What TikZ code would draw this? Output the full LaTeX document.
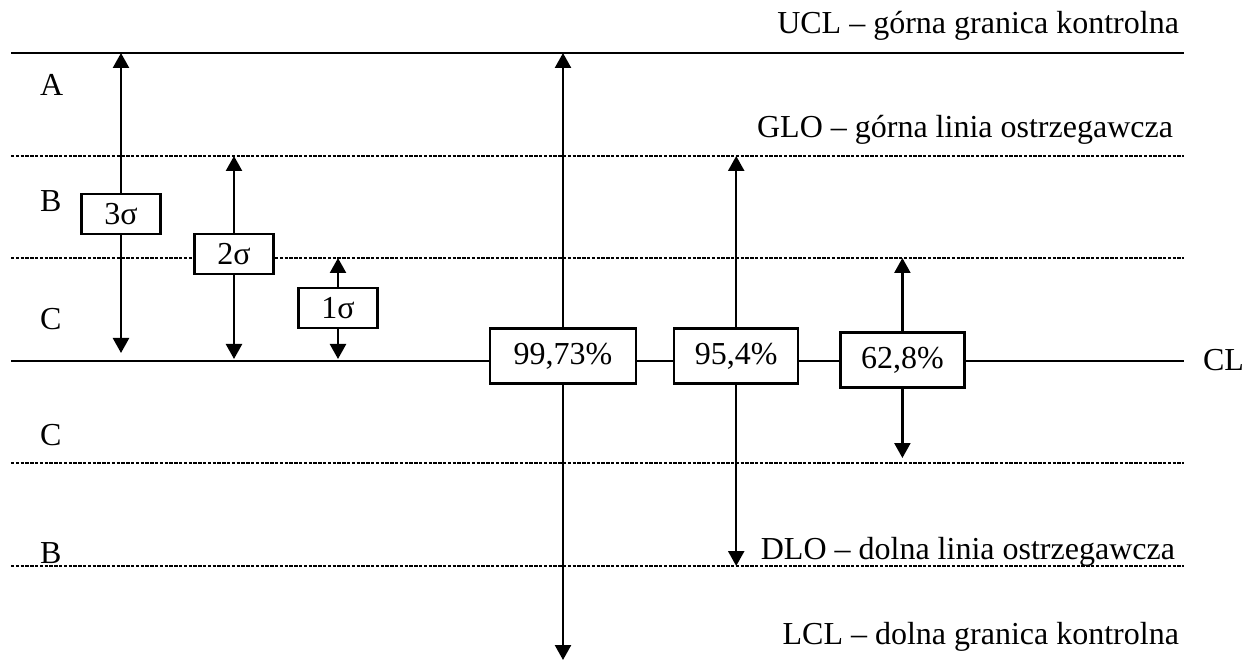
\documentclass[tikz,border=0pt]{standalone}
\usepackage{fontspec}
\setmainfont{Liberation Serif}
\usetikzlibrary{arrows.meta, positioning}

\begin{document}
\begin{tikzpicture}[
  x=0.5pt, y=-0.5pt,
  font=\fontsize{16}{19}\selectfont,
  limit/.style={line width=1.2pt},
  warn/.style={line width=1.2pt, dash pattern=on 1.7pt off 0.7pt},
  sbox/.style={rectangle, draw, line width=1.1pt, fill=white,
              minimum width=39.5pt, minimum height=20pt, inner sep=0pt},
  pbox/.style={sbox, minimum width=62pt, minimum height=27.5pt},
  tip/.style={-{Triangle[length=7.5pt, width=8pt]}, line width=1.2pt},
  zone/.style={anchor=base west},
  lname/.style={anchor=base east}
]
  \useasboundingbox (0,0) rectangle (1247,662);

  % control and warning lines
  \coordinate (ucl-l) at (11,53);  \coordinate (ucl-r) at (1184,53);
  \coordinate (glo-l) at (11,156); \coordinate (glo-r) at (1184,156);
  \coordinate (c1-l) at (11,258);  \coordinate (c1-r) at (1184,258);
  \coordinate (cl-l) at (11,361);  \coordinate (cl-r) at (1184,361);
  \coordinate (c2-l) at (11,463);  \coordinate (c2-r) at (1184,463);
  \coordinate (dlo-l) at (11,566); \coordinate (dlo-r) at (1184,566);
  \coordinate (lcl-b) at (564,660);

  \draw[limit] (ucl-l) -- (ucl-r);
  \draw[warn] (glo-l) -- (glo-r);
  \draw[warn] (c1-l) -- (c1-r);
  \draw[limit] (cl-l) -- (cl-r);
  \draw[warn] (c2-l) -- (c2-r);
  \draw[warn] (dlo-l) -- (dlo-r);

  % zones
  \node[zone] (zA) at (33,96) {A};
  \node[zone] (zB1) at (33,212) {B};
  \node[zone] (zC1) at (33,330) {C};
  \node[zone] (zC2) at (33,445) {C};
  \node[zone] (zB2) at (33,563) {B};

  % line names
  \node[lname] (ucl) at (1186,34) {UCL – górna granica kontrolna};
  \node[lname] (glo) at (1180,138) {GLO – górna linia ostrzegawcza};
  \node[anchor=base west] (cl) at (1196,371) {CL};
  \node[lname] (dlo) at (1182,559) {DLO – dolna linia ostrzegawcza};
  \node[lname] (lcl) at (1186,644) {LCL – dolna granica kontrolna};

  % sigma ranges
  \node[sbox] (s3) at (121,214) {3σ};
  \node[sbox] (s2) at (234,254) {2σ};
  \node[sbox] (s1) at (338,308) {1σ};

  \draw[tip] (s3) -- (s3 |- ucl-l);
  \draw[tip] (s3) -- ([yshift=4pt]s3 |- cl-l);
  \draw[tip] (s2) -- (s2 |- glo-l);
  \draw[tip] (s2) -- ([yshift=1pt]s2 |- cl-l);
  \draw[tip] (s1) -- (s1 |- c1-l);
  \draw[tip] (s1) -- ([yshift=1pt]s1 |- cl-l);

  % percentage ranges
  \node[pbox, minimum width=73pt] (p99) at (563,356) {99,73\%};
  \node[pbox, right=18pt of p99] (p95) {95,4\%};
  \node[pbox, right=20pt of p95, yshift=-2pt] (p62) {62,8\%};

  \draw[tip] (p99) -- (p99 |- ucl-l);
  \draw[tip] (p99) -- (p99 |- lcl-b);
  \draw[tip] (p95) -- (p95 |- glo-l);
  \draw[tip] (p95) -- (p95 |- dlo-l);
  \draw[tip] (p62) -- (p62 |- c1-l);
  \draw[tip] (p62) -- ([yshift=2.5pt]p62 |- c2-l);
\end{tikzpicture}
\end{document}
